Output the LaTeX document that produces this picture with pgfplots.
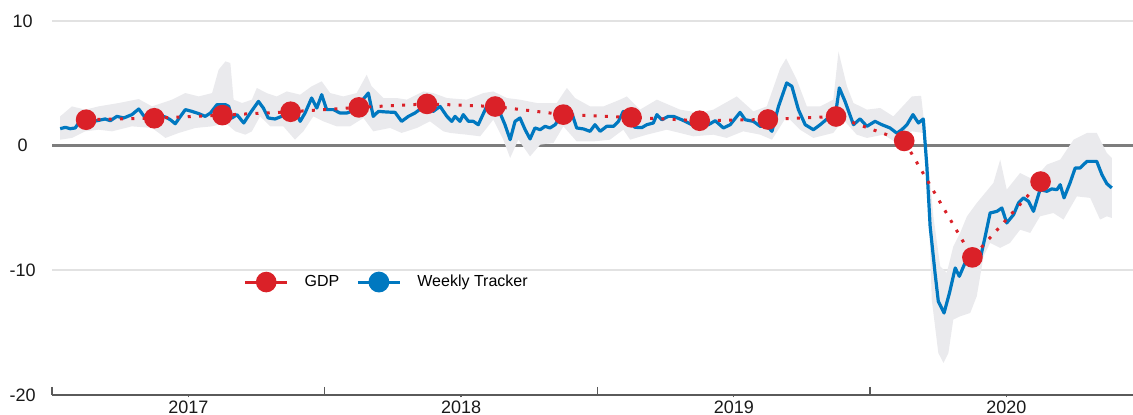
\documentclass[border=0pt]{standalone}
\usepackage{fontspec}
\setmainfont{Liberation Sans}
\usepackage{pgfplots}
\usepackage{pgfplotstable}
\pgfplotsset{compat=1.18}
\usepgfplotslibrary{fillbetween}
\definecolor{gdpred}{RGB}{218,33,40}
\definecolor{trkblue}{RGB}{0,120,192}
\definecolor{bandgray}{RGB}{234,234,237}
\definecolor{gridgray}{RGB}{226,226,226}
\definecolor{axgray}{RGB}{90,90,90}
\definecolor{zerogray}{RGB}{125,125,125}

\pgfplotstableread{
x y
2017.030 1.36
2017.049 1.47
2017.067 1.36
2017.085 1.42
2017.098 1.82
2017.122 2.00
2017.153 1.95
2017.171 2.03
2017.195 2.14
2017.214 2.00
2017.238 2.35
2017.263 2.22
2017.293 2.49
2017.318 2.94
2017.336 2.41
2017.355 2.30
2017.373 2.22
2017.391 2.41
2017.416 2.30
2017.434 2.08
2017.452 1.76
2017.471 2.35
2017.489 2.89
2017.513 2.75
2017.538 2.57
2017.562 2.35
2017.581 2.62
2017.605 3.29
2017.636 3.29
2017.648 3.15
2017.660 2.22
2017.678 2.49
2017.703 1.82
2017.727 2.62
2017.757 3.55
2017.775 3.02
2017.793 2.22
2017.818 2.14
2017.842 2.35
2017.861 2.62
2017.891 2.89
2017.910 1.95
2017.928 2.62
2017.952 3.82
2017.971 3.02
2017.989 4.09
2018.007 2.89
2018.032 2.89
2018.056 2.62
2018.081 2.62
2018.099 2.75
2018.130 3.42
2018.160 4.22
2018.178 2.35
2018.197 2.75
2018.227 2.70
2018.258 2.67
2018.282 1.95
2018.307 2.35
2018.331 2.62
2018.356 3.02
2018.380 3.55
2018.398 2.75
2018.423 3.15
2018.448 2.35
2018.466 1.95
2018.478 2.35
2018.496 1.95
2018.508 2.49
2018.527 1.95
2018.545 1.95
2018.563 1.68
2018.594 3.15
2018.618 3.15
2018.643 2.62
2018.661 1.68
2018.680 0.48
2018.698 1.95
2018.716 2.22
2018.735 1.28
2018.753 0.54
2018.771 1.42
2018.790 1.28
2018.808 1.55
2018.826 1.42
2018.845 1.68
2018.869 2.49
2018.888 3.15
2018.906 2.62
2018.924 1.42
2018.949 1.34
2018.973 1.15
2018.991 1.68
2019.010 1.15
2019.034 1.55
2019.059 1.55
2019.077 1.95
2019.095 2.75
2019.114 1.95
2019.138 1.47
2019.163 1.45
2019.181 1.68
2019.205 1.82
2019.218 2.49
2019.236 2.08
2019.260 2.35
2019.279 2.35
2019.309 2.08
2019.334 1.82
2019.358 1.55
2019.389 1.60
2019.407 1.68
2019.432 2.00
2019.462 1.42
2019.487 1.68
2019.523 2.67
2019.542 2.08
2019.572 1.95
2019.597 1.55
2019.621 1.60
2019.640 1.15
2019.664 3.15
2019.694 5.03
2019.713 4.76
2019.737 2.89
2019.762 1.68
2019.792 1.28
2019.817 1.68
2019.853 2.35
2019.872 2.35
2019.887 4.63
2019.908 3.55
2019.939 1.68
2019.963 2.15
2019.988 1.55
2020.018 1.95
2020.043 1.68
2020.073 1.42
2020.098 1.00
2020.116 1.28
2020.135 1.68
2020.157 2.49
2020.177 1.82
2020.195 2.14
2020.208 -1.66
2020.220 -6.47
2020.238 -10.21
2020.250 -12.49
2020.271 -13.42
2020.291 -11.81
2020.312 -9.81
2020.327 -10.48
2020.348 -9.41
2020.373 -8.34
2020.391 -8.74
2020.403 -9.14
2020.422 -7.27
2020.440 -5.40
2020.465 -5.27
2020.483 -5.00
2020.501 -6.20
2020.526 -5.53
2020.544 -4.60
2020.562 -4.19
2020.581 -4.47
2020.599 -5.27
2020.623 -3.53
2020.648 -3.66
2020.666 -3.47
2020.685 -3.53
2020.697 -3.13
2020.711 -4.19
2020.733 -2.99
2020.752 -1.79
2020.770 -1.79
2020.795 -1.26
2020.831 -1.26
2020.850 -2.33
2020.868 -3.05
2020.886 -3.39
}\trackertab

\pgfplotstableread{
x y
2017.030 2.35
2017.073 3.15
2017.122 2.89
2017.171 3.15
2017.245 3.42
2017.318 3.74
2017.367 3.15
2017.440 3.69
2017.489 4.22
2017.538 3.95
2017.587 4.22
2017.611 6.09
2017.636 6.76
2017.654 6.63
2017.666 3.69
2017.697 3.42
2017.733 3.69
2017.751 4.63
2017.787 4.22
2017.824 3.95
2017.861 4.35
2017.910 4.09
2017.952 4.76
2017.989 5.16
2018.020 4.22
2018.068 3.95
2018.117 4.22
2018.154 5.69
2018.172 4.76
2018.215 3.82
2018.264 3.82
2018.301 3.69
2018.362 4.35
2018.398 4.22
2018.448 3.82
2018.521 3.69
2018.582 4.22
2018.618 4.35
2018.668 3.82
2018.716 3.69
2018.778 3.42
2018.851 3.42
2018.888 4.63
2018.918 3.82
2018.973 3.15
2019.022 3.15
2019.083 3.69
2019.108 3.95
2019.156 2.89
2019.218 3.69
2019.303 2.89
2019.377 2.62
2019.425 2.89
2019.511 3.95
2019.572 2.75
2019.621 3.15
2019.670 6.20
2019.692 7.00
2019.731 5.29
2019.768 3.15
2019.817 3.15
2019.865 3.69
2019.884 7.55
2019.915 4.76
2019.939 3.42
2019.988 2.89
2020.037 3.02
2020.085 2.35
2020.153 3.95
2020.187 4.00
2020.208 -0.05
2020.232 -5.67
2020.257 -9.68
2020.281 -10.21
2020.305 -8.08
2020.330 -7.00
2020.355 -5.67
2020.391 -4.60
2020.452 -2.99
2020.477 -1.12
2020.501 -3.53
2020.550 -2.19
2020.599 -2.73
2020.648 -1.52
2020.697 -1.12
2020.746 0.48
2020.795 1.02
2020.831 1.02
2020.868 -0.59
2020.886 -0.99
}\bandhitab

\pgfplotstableread{
x y
2017.030 0.48
2017.073 0.62
2017.122 1.15
2017.171 1.28
2017.220 1.15
2017.293 1.55
2017.367 1.42
2017.416 0.62
2017.465 1.02
2017.526 1.42
2017.587 1.55
2017.636 1.82
2017.672 1.15
2017.709 0.88
2017.733 1.15
2017.763 2.35
2017.800 1.55
2017.848 1.55
2017.891 0.48
2017.922 1.15
2017.958 2.35
2017.995 1.95
2018.044 1.55
2018.093 1.55
2018.142 2.22
2018.178 1.15
2018.240 1.42
2018.282 1.02
2018.338 1.42
2018.386 1.95
2018.435 1.15
2018.460 1.02
2018.521 0.88
2018.570 0.75
2018.618 2.08
2018.655 0.48
2018.680 -0.99
2018.710 0.48
2018.753 -0.86
2018.790 0.08
2018.839 0.22
2018.875 1.55
2018.924 0.34
2018.985 0.34
2019.046 0.48
2019.095 1.28
2019.120 0.48
2019.181 0.88
2019.254 1.28
2019.352 0.75
2019.425 0.88
2019.474 0.62
2019.535 1.15
2019.597 0.88
2019.640 0.48
2019.694 2.35
2019.743 1.28
2019.792 0.62
2019.865 1.02
2019.902 2.08
2019.951 0.88
2019.988 0.62
2020.049 0.88
2020.098 0.22
2020.153 1.15
2020.195 1.02
2020.214 -4.33
2020.226 -12.35
2020.250 -16.63
2020.269 -17.43
2020.287 -16.63
2020.305 -13.95
2020.330 -13.69
2020.367 -13.42
2020.391 -12.08
2020.416 -8.88
2020.440 -7.80
2020.477 -8.20
2020.513 -7.80
2020.550 -6.74
2020.587 -7.00
2020.623 -5.67
2020.672 -5.40
2020.709 -5.93
2020.758 -4.07
2020.807 -4.19
2020.843 -5.93
2020.868 -5.67
2020.886 -5.80
}\bandlotab

\pgfplotstableread{
x y
2017.125 2.08
2017.375 2.20
2017.625 2.45
2017.875 2.72
2018.125 3.07
2018.375 3.35
2018.625 3.14
2018.875 2.49
2019.125 2.27
2019.375 2.00
2019.625 2.10
2019.875 2.34
2020.125 0.38
2020.375 -8.96
2020.625 -2.88
}\gdptab

\begin{document}
\begin{tikzpicture}
\begin{axis}[
  at={(0pt,0pt)}, anchor=south west,
  scale only axis, width=540.5pt, height=187pt,
  xmin=2017, xmax=2020.964, ymin=-20, ymax=10,
  axis lines*=left,
  y axis line style={draw=none},
  x axis line style={draw=axgray, line width=0.8pt},
  ytick={-20,-10,10}, yticklabels={-20,-10,10},
  extra y ticks={0}, extra y tick labels={0},
  extra y tick style={major grid style={draw=zerogray, line width=1.8pt}},
  ymajorgrids, major grid style={draw=gridgray, line width=1pt},
  ytick style={draw=none},
  yticklabel style={anchor=center, xshift=-13.5pt},
  xtick={2017.5,2018.5,2019.5,2020.5}, xticklabels={2017,2018,2019,2020},
  tick align=outside, major tick length=1.2pt,
  extra x ticks={2017,2018,2019,2020}, extra x tick labels={},
  extra x tick style={major tick length=-4pt},
  xtick style={draw=axgray, line width=0.7pt},
  tick label style={font=\fontsize{9}{10.8}\selectfont, text=black!90},
  xticklabel style={yshift=1.8pt},
  reverse legend,
  legend columns=2,
  legend style={at={(0.1770,0.302)}, anchor=west, draw=none, fill=none,
    inner sep=0pt, font=\fontsize{8}{9.6}\selectfont,
    /tikz/every odd column/.append style={column sep=6pt},
    /tikz/every even column/.append style={column sep=6.5pt}},
  clip=false,
]
\addplot[draw=none, name path=up, forget plot] table {\bandhitab};
\addplot[draw=none, name path=lo, forget plot] table {\bandlotab};
\addplot[fill=bandgray, draw=none, forget plot] fill between[of=up and lo];
\addplot[trkblue, line width=1.6pt, line join=round,
  legend image code/.code={\draw[trkblue, solid, line width=1.5pt] (0pt,0pt) -- (21pt,0pt); \fill[trkblue, solid] (10.5pt,0pt) circle (4.4pt);}]
  table {\trackertab};
\addlegendentry{Weekly Tracker}
\addplot[gdpred, line width=1.5pt, line cap=butt, dash pattern=on 1.5pt off 4.15pt,
  mark=*, mark size=4.4pt, mark options={solid, draw=none, fill=gdpred},
  legend image code/.code={\draw[gdpred, solid, line width=1.5pt] (0pt,0pt) -- (21pt,0pt); \fill[gdpred, solid] (10.5pt,0pt) circle (4.4pt);}]
  table {\gdptab};
\addlegendentry{GDP}
\end{axis}
\pgfresetboundingbox
\path[use as bounding box] (-26pt,-10pt) rectangle (540.5pt,197.5pt);
\end{tikzpicture}
\end{document}
